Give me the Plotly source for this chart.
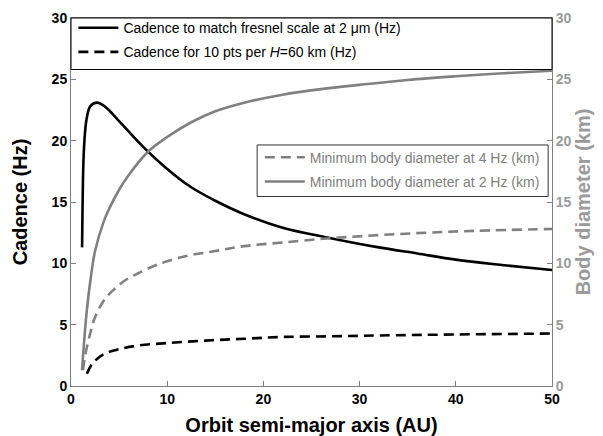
import plotly.graph_objects as go

# Cadence needed to resolve the Fresnel scale at 2 micron (Hz)
a_fresnel = [1.15, 1.2, 1.3, 1.45, 1.65, 2.0, 2.7, 3.5, 5, 7.5, 10, 12.5, 15, 18, 22, 27, 32, 36, 40, 45, 50]
cad_fresnel = [11.3, 14.5, 18.5, 20.6, 21.9, 22.8, 23.1, 22.8, 21.6, 19.5, 17.7, 16.2, 15.1, 14.0, 12.9, 12.05, 11.3, 10.8, 10.3, 9.85, 9.45]

# Cadence for 10 points per scale height H = 60 km (Hz)
a_scaleh = [1.65, 2.2, 3.4, 5, 7, 10, 14, 18, 22, 27, 32, 40, 50]
cad_scaleh = [1.0, 1.8, 2.6, 3.0, 3.3, 3.5, 3.7, 3.85, 4.0, 4.05, 4.12, 4.2, 4.28]

# Minimum body diameter at 4 Hz (km)
a_d4 = [1.25, 1.5, 2.0, 2.5, 3.4, 4.5, 5.8, 7, 9, 12, 15, 18, 22, 27, 32, 37, 42, 50]
diam_4hz = [1.3, 2.6, 4.3, 5.6, 6.95, 7.9, 8.7, 9.2, 9.9, 10.6, 11.0, 11.4, 11.7, 12.05, 12.3, 12.5, 12.65, 12.8]

# Minimum body diameter at 2 Hz (km)
a_d2 = [1.15, 1.3, 1.6, 2.0, 2.5, 3.4, 4, 5, 6, 8, 10, 12.5, 15, 18, 22, 26, 30, 35, 40, 45, 50]
diam_2hz = [1.3, 3.0, 5.8, 8.5, 11.0, 13.4, 14.5, 16.0, 17.2, 19.1, 20.3, 21.5, 22.4, 23.1, 23.75, 24.2, 24.55, 24.95, 25.25, 25.5, 25.7]

x_ticks = [0, 10, 20, 30, 40, 50]
y_ticks = [0, 5, 10, 15, 20, 25, 30]

BLACK = "#000000"
GREY = "#808080"
LIGHT = "#9a9a9a"
AXIS = "#808080"
FONT = "Arial, Liberation Sans, sans-serif"
DASH = "10px,6px"

fig = go.Figure()

fig.add_trace(go.Scatter(
    x=a_fresnel, y=cad_fresnel, mode="lines", line_shape="spline",
    line=dict(color=BLACK, width=2.6),
    name="Cadence to match fresnel scale at 2 \u03bcm (Hz)", legend="legend", legendgroup="c1"))
fig.add_trace(go.Scatter(
    x=a_scaleh, y=cad_scaleh, mode="lines", line_shape="spline",
    line=dict(color=BLACK, width=2.6, dash=DASH),
    name="Cadence for 10 pts per <i>H</i>=60 km (Hz)", legend="legend", legendgroup="c2"))
fig.add_trace(go.Scatter(
    x=a_d4, y=diam_4hz, mode="lines", line_shape="spline", yaxis="y2",
    line=dict(color=GREY, width=2.6, dash=DASH),
    name="Minimum body diameter at 4 Hz (km)", legend="legend2", legendgroup="d4"))
fig.add_trace(go.Scatter(
    x=a_d2, y=diam_2hz, mode="lines", line_shape="spline", yaxis="y2",
    line=dict(color=GREY, width=2.6),
    name="Minimum body diameter at 2 Hz (km)", legend="legend2", legendgroup="d2"))

axis_common = dict(
    showgrid=False, zeroline=False, showline=True, linecolor=AXIS, linewidth=1,
    ticks="inside", ticklen=5, tickcolor=AXIS, tickwidth=1, automargin=False,
)

fig.update_layout(
    width=603, height=436,
    margin=dict(l=71, r=51, t=15, b=50),
    paper_bgcolor="white", plot_bgcolor="white",
    font=dict(family=FONT, color=BLACK),
    xaxis=dict(
        range=[0, 50], tickvals=x_ticks, mirror=True,
        title=dict(text="Orbit semi-major axis (AU)", font=dict(size=20, weight="bold"), standoff=12),
        tickfont=dict(size=14, weight="bold", color=BLACK),
        **axis_common),
    yaxis=dict(
        range=[0, 30], tickvals=y_ticks,
        title=dict(text="Cadence (Hz)", font=dict(size=20, weight="bold"), standoff=18),
        tickfont=dict(size=14, weight="bold", color=BLACK),
        **axis_common),
    yaxis2=dict(
        range=[0, 30], tickvals=y_ticks, overlaying="y", side="right",
        title=dict(text="Body diameter (km)", font=dict(size=20, weight="bold", color=LIGHT), standoff=4),
        tickfont=dict(size=14, weight="bold", color=LIGHT),
        **axis_common),
    legend=dict(
        x=0.005, y=1.016, xanchor="left", yanchor="top",
        bgcolor="rgba(0,0,0,0)", borderwidth=0,
        font=dict(size=14, color=BLACK), tracegroupgap=3, itemwidth=40),
    legend2=dict(
        x=0.985, y=0.664, xanchor="right", yanchor="top",
        bgcolor="rgba(0,0,0,0)", borderwidth=0,
        font=dict(size=14, color=GREY), tracegroupgap=3, itemwidth=40),
    shapes=[
        dict(type="rect", xref="paper", yref="paper", x0=0, x1=1, y0=0.86, y1=1,
             fillcolor="white", line=dict(color=BLACK, width=1), layer="above"),
        dict(type="rect", xref="paper", yref="paper", x0=0.387, x1=0.992, y0=0.515, y1=0.655,
             fillcolor="white", line=dict(color="#333333", width=1), layer="above"),
    ],
    showlegend=True,
)

fig.write_html("out.html")
